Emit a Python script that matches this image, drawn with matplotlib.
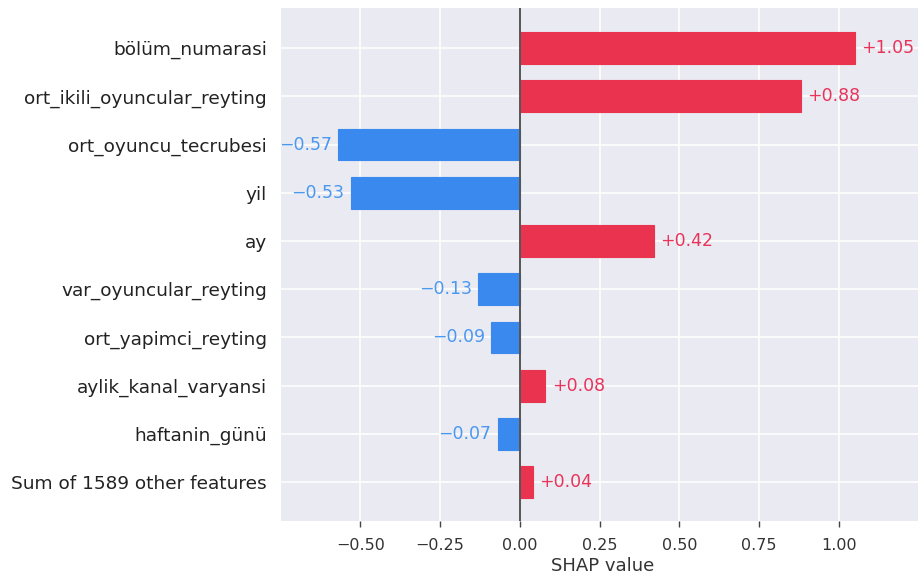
import numpy as np
import matplotlib
matplotlib.use("Agg")
import matplotlib.pyplot as plt

features = [
    "bölüm_numarasi",
    "ort_ikili_oyuncular_reyting",
    "ort_oyuncu_tecrubesi",
    "yil",
    "ay",
    "var_oyuncular_reyting",
    "ort_yapimci_reyting",
    "aylik_kanal_varyansi",
    "haftanin_günü",
    "Sum of 1589 other features",
]
shap_values = [1.05, 0.88, -0.57, -0.53, 0.42, -0.13, -0.09, 0.08, -0.07, 0.04]
x_ticks = [-0.50, -0.25, 0.00, 0.25, 0.50, 0.75, 1.00]

pos_bar = "#E9334F"
neg_bar = "#3A89EE"
pos_text = "#E8335A"
neg_text = "#4A98F0"

fig = plt.figure(figsize=(9.18, 5.74), dpi=100)
ax = fig.add_axes([0.306, 0.092, 0.70, 0.894])
ax.set_facecolor("#EAEAF2")
for s in ax.spines.values():
    s.set_visible(False)

y = np.arange(len(features))
vals = np.array(shap_values)
colors = [pos_bar if v > 0 else neg_bar for v in vals]

ax.set_axisbelow(True)
ax.grid(True, color="white", linewidth=1.1)
ax.barh(y, vals, height=0.66, color=colors, edgecolor=colors, linewidth=0.8, zorder=2)
ax.axvline(0, color="#555555", linewidth=1.4, zorder=3)

# value labels next to each bar
for yi, v in zip(y, vals):
    if v > 0:
        ax.text(v + 0.02, yi, f"+{v:.2f}", color=pos_text, fontsize=12.5,
                va="center", ha="left", zorder=4)
    else:
        ax.text(v - 0.02, yi, f"\u2212{abs(v):.2f}", color=neg_text, fontsize=12.5,
                va="center", ha="right", zorder=4)

ax.set_yticks(y)
ax.set_yticklabels(features, fontsize=13.3, color="#222222")
ax.set_ylim(len(features) - 1 + 0.81, -0.83)
ax.tick_params(axis="y", length=0, pad=10)

ax.set_xticks(x_ticks)
ax.set_xticklabels([f"{t:.2f}".replace("-", "\u2212") for t in x_ticks],
                   fontsize=11.5, color="#333333")
ax.tick_params(axis="x", length=4, width=1, color="#444444", pad=8)
ax.set_xlim(-0.749, 1.265)
ax.set_xlabel("SHAP value", fontsize=13, color="#333333", labelpad=3)

fig.savefig("out.png", dpi=100)
